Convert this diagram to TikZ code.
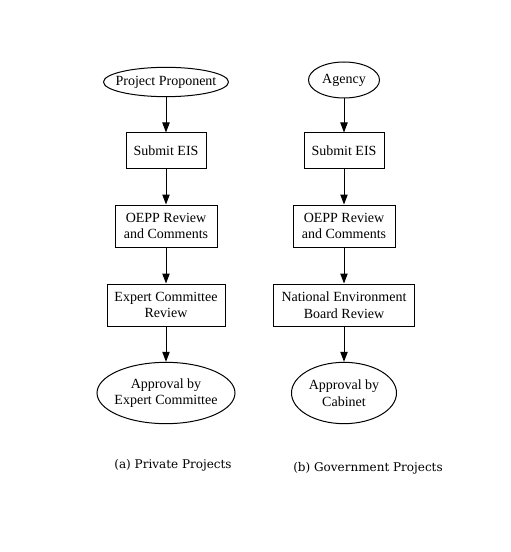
\documentclass[tikz,border=0pt]{standalone}
\usepackage{fontspec}
\setmainfont{Liberation Serif}
\newfontfamily\capfont{DejaVu Serif}
\usetikzlibrary{arrows.meta,shapes.geometric}
\begin{document}
\begin{tikzpicture}[x=0.75pt,y=-0.75pt,
  every node/.style={font=\fontsize{10.5}{12.5}\selectfont, inner sep=0pt, align=center, line width=0.75pt},
  boxnode/.style={draw, rectangle},
  ellnode/.style={draw, ellipse, inner xsep=-6pt, inner ysep=0pt},
  conn/.style={line width=0.75pt, -{Triangle[length=7.5pt,width=5.5pt]}},
  capnode/.style={font=\capfont\fontsize{9}{11}\selectfont}]
\useasboundingbox (0,0) rectangle (510,552);
% left column
\node[ellnode, minimum width=93.75pt, minimum height=22pt] (pp) at (166,82) {Project Proponent};
\node[boxnode, minimum width=60pt, minimum height=27pt] (s1) at (166,151) {Submit EIS};
\node[boxnode, minimum width=76.5pt, minimum height=31.5pt] (o1) at (166,226) {OEPP Review\\and Comments};
\node[boxnode, minimum width=88.5pt, minimum height=31.5pt] (e1) at (166,305) {Expert Committee\\Review};
\node[ellnode, minimum width=103.5pt, minimum height=46pt] (a1) at (166,393) {Approval by\\Expert Committee};
% right column
\node[ellnode, minimum width=53.25pt, minimum height=27pt] (ag) at (344,80) {Agency};
\node[boxnode, minimum width=60pt, minimum height=27pt] (s2) at (344,151) {Submit EIS};
\node[boxnode, minimum width=76.5pt, minimum height=31.5pt] (o2) at (344,226) {OEPP Review\\and Comments};
\node[boxnode, minimum width=105.75pt, minimum height=31.5pt] (n2) at (344,305) {National Environment\\Board Review};
\node[ellnode, minimum width=78.75pt, minimum height=46pt] (a2) at (344,393) {Approval by\\Cabinet};
% connectors
\draw[conn] (pp) -- (s1);
\draw[conn] (s1) -- (o1);
\draw[conn] (o1) -- (e1);
\draw[conn] (e1) -- (a1);
\draw[conn] (ag) -- (s2);
\draw[conn] (s2) -- (o2);
\draw[conn] (o2) -- (n2);
\draw[conn] (n2) -- (a2);
% captions
\node[capnode] (ca) at (173,465) {(a) Private Projects};
\node[capnode] (cb) at (368,468) {(b) Government Projects};
\end{tikzpicture}
\end{document}
